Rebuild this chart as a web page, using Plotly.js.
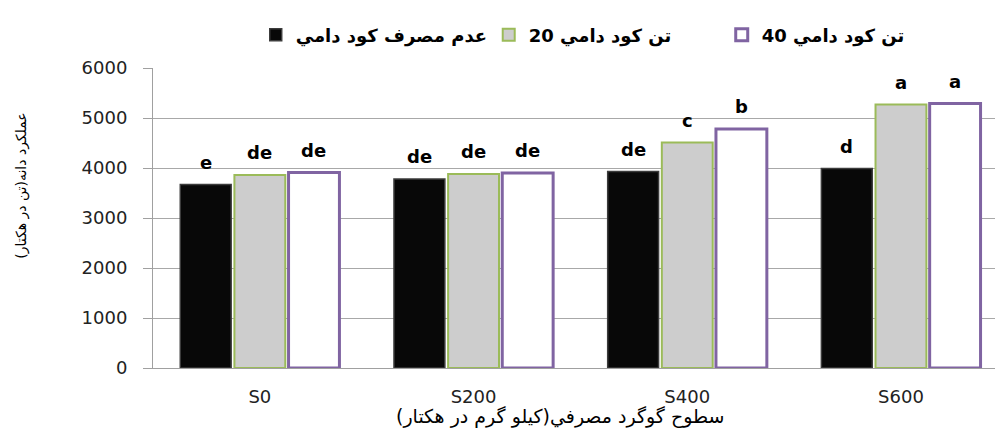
<!DOCTYPE html>
<html>
<head>
<meta charset="utf-8">
<script src="https://cdn.plot.ly/plotly-3.0.1.min.js"></script>
<style>html,body{margin:0;padding:0;background:#fff;overflow:hidden;}</style>
</head>
<body>
<div id="chart" style="width:995px;height:431px;"></div>
<script>
// ---- data ----
var categories = ['S0', 'S200', 'S400', 'S600'];
var seriesNames = ['<b>عدم مصرف كود دامي</b>', '<b>20 تن كود دامي</b>', '<b>40 تن كود دامي</b>'];
var noManure = [3670, 3780, 3930, 3990];
var manure20 = [3860, 3880, 4510, 5270];
var manure40 = [3910, 3900, 4780, 5290];
var lettersNoManure = ['e', 'de', 'de', 'd'];
var letters20 = ['de', 'de', 'c', 'a'];
var letters40 = ['de', 'de', 'b', 'a'];
var yTickVals = [0, 1000, 2000, 3000, 4000, 5000, 6000];
var xTitle = 'سطوح گوگرد مصرفي(كيلو گرم در هكتار)';
var yTitle = 'عملكرد دانه(تن در هكتار)';

var values = [noManure, manure20, manure40];
var letters = [lettersNoManure, letters20, letters40];
var fills = ['#080808', '#cdcdcd', '#ffffff'];
var lines = ['#3c3c3c', '#9bbb59', '#8064a2'];
var lineW = [1.5, 2, 3];

var traces = values.map(function (v, i) {
  return {
    type: 'bar',
    x: categories,
    y: v,
    name: seriesNames[i],
    marker: { color: fills[i], line: { color: lines[i], width: lineW[i] } },
    hoverinfo: 'x+y'
  };
});

var slot = 54; // pixel width of one bar slot inside a group
var annotations = [];
letters.forEach(function (arr, i) {
  arr.forEach(function (t, j) {
    annotations.push({
      x: categories[j], y: values[i][j], xref: 'x', yref: 'y',
      text: '<b>' + t + '</b>', showarrow: false,
      xshift: (i - 1) * slot, yshift: 10, yanchor: 'bottom',
      font: { family: 'DejaVu Sans', size: 18, color: '#000' }
    });
  });
});
annotations.push({
  xref: 'paper', yref: 'paper', x: (560 - 153) / 842, y: -0.16,
  text: xTitle, showarrow: false, yanchor: 'middle', xanchor: 'center',
  font: { family: 'DejaVu Sans', size: 19, color: '#000' }
});
annotations.push({
  xref: 'paper', yref: 'paper', x: -0.157, y: 0.61,
  text: yTitle, showarrow: false, textangle: -90, xanchor: 'center', yanchor: 'middle',
  font: { family: 'DejaVu Sans', size: 14, color: '#000' }
});

var layout = {
  width: 995, height: 431,
  margin: { l: 153, r: 0, t: 68, b: 63, autoexpand: false },
  paper_bgcolor: '#ffffff', plot_bgcolor: '#ffffff',
  barmode: 'group', bargap: 0.24, bargroupgap: 0.06,
  showlegend: true,
  legend: {
    orientation: 'h', x: 0.122, xanchor: 'left', y: 1.11, yanchor: 'middle',
    font: { family: 'DejaVu Sans', size: 18, color: '#000' },
    traceorder: 'normal', itemwidth: 30, entrywidth: 188, entrywidthmode: 'pixels'
  },
  xaxis: {
    type: 'category', range: [-0.5, 3.44],
    showline: true, linecolor: '#a0a0a0', linewidth: 1,
    ticks: '', showgrid: false, zeroline: false,
    tickfont: { family: 'DejaVu Sans', size: 18, color: '#222' },
    ticklabelstandoff: 12
  },
  yaxis: {
    range: [0, 6000], tickvals: yTickVals, ticktext: yTickVals.map(String),
    showline: true, linecolor: '#a0a0a0', linewidth: 1,
    ticks: 'outside', ticklen: 9, tickcolor: '#a0a0a0',
    showgrid: true, gridcolor: '#a8a8a8', gridwidth: 1, zeroline: false,
    tickfont: { family: 'DejaVu Sans', size: 18, color: '#222' },
    ticklabelstandoff: 12
  },
  annotations: annotations
};

Plotly.newPlot('chart', traces, layout, { displayModeBar: false, staticPlot: true });
</script>
</body>
</html>
